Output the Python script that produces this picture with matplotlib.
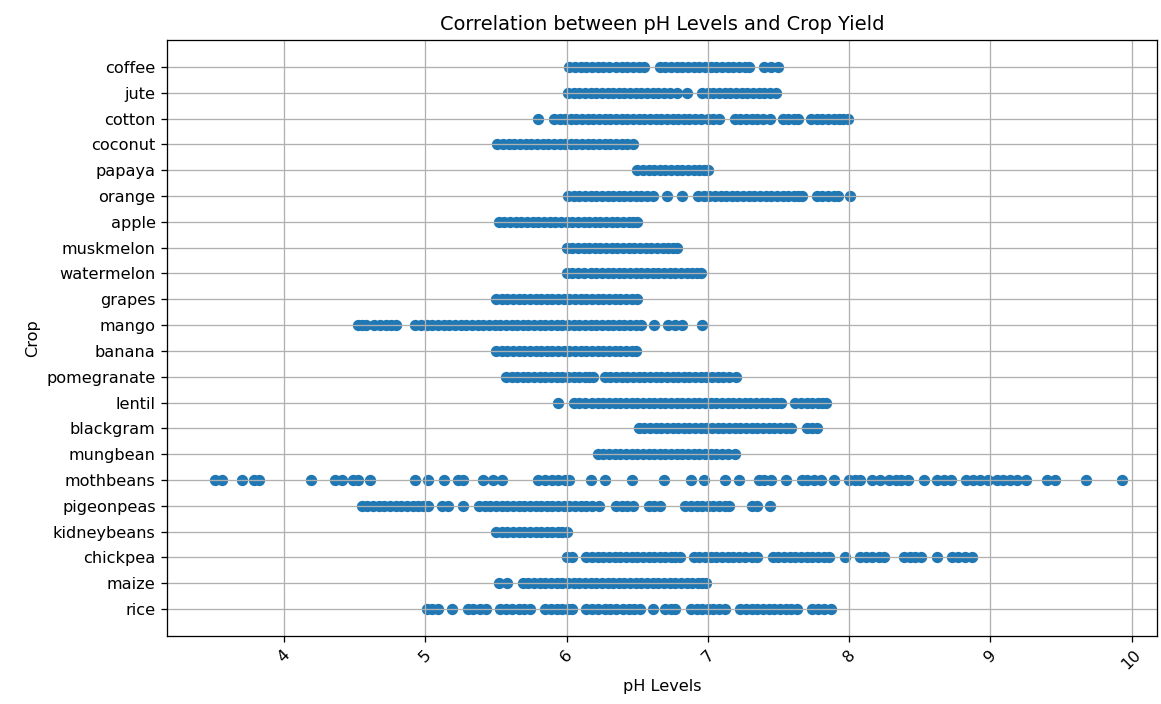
import matplotlib
matplotlib.use("Agg")
import matplotlib.pyplot as plt

# pH readings per crop
rice_ph = [5.01, 5.05, 5.09, 5.19, 5.30, 5.34, 5.39, 5.43, 5.53, 5.57, 5.61, 5.66, 5.70, 5.74,
           5.85, 5.89, 5.93, 5.97, 6.01, 6.04, 6.14, 6.18, 6.22, 6.27, 6.31, 6.35, 6.40, 6.44,
           6.48, 6.52, 6.61, 6.70, 6.74, 6.77, 6.88, 6.92, 6.96, 7.00, 7.04, 7.08, 7.12, 7.23,
           7.27, 7.31, 7.35, 7.39, 7.43, 7.47, 7.51, 7.55, 7.59, 7.63, 7.74, 7.78, 7.82, 7.87]
maize_ph = [5.52, 5.58, 5.69, 5.73, 5.77, 5.81, 5.85, 5.89, 5.93, 5.97, 6.01, 6.05, 6.09, 6.13,
            6.17, 6.21, 6.25, 6.29, 6.33, 6.37, 6.41, 6.45, 6.49, 6.53, 6.57, 6.61, 6.65, 6.69,
            6.73, 6.77, 6.81, 6.85, 6.89, 6.93, 6.96, 6.99]
chickpea_ph = [6.00, 6.04, 6.14, 6.18, 6.22, 6.26, 6.30, 6.34, 6.38, 6.42, 6.46, 6.50, 6.54, 6.58,
               6.62, 6.66, 6.70, 6.74, 6.77, 6.80, 6.90, 6.94, 6.98, 7.02, 7.06, 7.10, 7.14, 7.18,
               7.22, 7.26, 7.31, 7.35, 7.46, 7.50, 7.54, 7.58, 7.62, 7.66, 7.70, 7.74, 7.78, 7.82,
               7.86, 7.97, 8.08, 8.12, 8.16, 8.21, 8.25, 8.39, 8.43, 8.47, 8.51, 8.62, 8.73, 8.77,
               8.82, 8.87]
kidneybeans_ph = [5.50, 5.54, 5.58, 5.62, 5.66, 5.70, 5.74, 5.78, 5.82, 5.86, 5.90, 5.94, 5.97, 6.00]
pigeonpeas_ph = [4.55, 4.59, 4.63, 4.67, 4.71, 4.75, 4.79, 4.83, 4.87, 4.91, 4.95, 4.98, 5.02, 5.12,
                 5.16, 5.27, 5.38, 5.42, 5.46, 5.50, 5.54, 5.58, 5.62, 5.66, 5.70, 5.74, 5.78, 5.82,
                 5.86, 5.90, 5.94, 5.98, 6.02, 6.06, 6.10, 6.14, 6.18, 6.23, 6.35, 6.39, 6.43, 6.47,
                 6.58, 6.62, 6.66, 6.84, 6.88, 6.92, 6.96, 7.00, 7.04, 7.08, 7.12, 7.15, 7.31, 7.35,
                 7.44]
mothbeans_ph = [3.51, 3.56, 3.70, 3.79, 3.82, 4.19, 4.36, 4.41, 4.49, 4.52, 4.61, 4.93, 5.02, 5.13,
                5.23, 5.27, 5.41, 5.48, 5.54, 5.80, 5.85, 5.90, 5.94, 5.99, 6.02, 6.17, 6.27, 6.46,
                6.69, 6.88, 6.97, 7.12, 7.22, 7.36, 7.40, 7.45, 7.55, 7.67, 7.70, 7.75, 7.80, 7.89,
                8.00, 8.04, 8.08, 8.16, 8.22, 8.28, 8.33, 8.37, 8.42, 8.53, 8.62, 8.67, 8.72, 8.83,
                8.88, 8.93, 8.98, 9.05, 9.09, 9.14, 9.19, 9.25, 9.40, 9.46, 9.68, 9.93]
mungbean_ph = [6.22, 6.26, 6.30, 6.34, 6.38, 6.42, 6.46, 6.50, 6.54, 6.58, 6.62, 6.66, 6.70, 6.74,
               6.78, 6.82, 6.86, 6.90, 6.94, 6.98, 7.02, 7.06, 7.10, 7.14, 7.19]
blackgram_ph = [6.51, 6.55, 6.59, 6.63, 6.67, 6.71, 6.75, 6.79, 6.83, 6.87, 6.91, 6.95, 6.99, 7.03,
                7.07, 7.11, 7.15, 7.19, 7.23, 7.27, 7.31, 7.35, 7.39, 7.43, 7.47, 7.51, 7.55, 7.59,
                7.70, 7.74, 7.77]
lentil_ph = [5.94, 6.05, 6.09, 6.13, 6.18, 6.22, 6.26, 6.30, 6.34, 6.38, 6.42, 6.46, 6.50, 6.54,
             6.58, 6.62, 6.66, 6.70, 6.74, 6.78, 6.82, 6.86, 6.90, 6.94, 6.98, 7.02, 7.06, 7.10,
             7.14, 7.18, 7.22, 7.26, 7.30, 7.34, 7.38, 7.42, 7.46, 7.49, 7.52, 7.62, 7.66, 7.70,
             7.74, 7.78, 7.81, 7.84]
pomegranate_ph = [5.57, 5.61, 5.65, 5.69, 5.73, 5.77, 5.81, 5.85, 5.89, 5.93, 5.97, 6.01, 6.05, 6.09,
                  6.13, 6.16, 6.19, 6.27, 6.31, 6.35, 6.39, 6.43, 6.47, 6.51, 6.55, 6.59, 6.63, 6.67,
                  6.71, 6.75, 6.79, 6.83, 6.87, 6.91, 6.95, 6.99, 7.03, 7.07, 7.11, 7.15, 7.20]
banana_ph = [5.50, 5.54, 5.58, 5.62, 5.66, 5.70, 5.74, 5.78, 5.82, 5.86, 5.90, 5.94, 5.98, 6.02,
             6.06, 6.10, 6.14, 6.18, 6.22, 6.26, 6.30, 6.34, 6.38, 6.42, 6.46, 6.49]
mango_ph = [4.52, 4.55, 4.58, 4.64, 4.68, 4.72, 4.76, 4.79, 4.93, 4.97, 5.01, 5.05, 5.09, 5.13,
            5.17, 5.21, 5.25, 5.29, 5.33, 5.37, 5.41, 5.45, 5.49, 5.53, 5.57, 5.61, 5.65, 5.69,
            5.73, 5.77, 5.81, 5.85, 5.89, 5.93, 5.97, 6.01, 6.05, 6.09, 6.13, 6.17, 6.21, 6.25,
            6.29, 6.33, 6.37, 6.41, 6.45, 6.49, 6.53, 6.62, 6.72, 6.77, 6.82, 6.96]
grapes_ph = [5.50, 5.54, 5.58, 5.62, 5.66, 5.70, 5.74, 5.78, 5.82, 5.86, 5.90, 5.94, 5.98, 6.02,
             6.06, 6.10, 6.14, 6.18, 6.22, 6.26, 6.30, 6.34, 6.38, 6.42, 6.46, 6.50]
watermelon_ph = [6.00, 6.04, 6.08, 6.12, 6.17, 6.21, 6.25, 6.29, 6.33, 6.37, 6.41, 6.45, 6.49, 6.53,
                 6.57, 6.61, 6.65, 6.69, 6.73, 6.77, 6.81, 6.85, 6.89, 6.92, 6.95]
muskmelon_ph = [6.00, 6.04, 6.08, 6.12, 6.16, 6.20, 6.24, 6.28, 6.32, 6.36, 6.40, 6.44, 6.48, 6.52,
                6.56, 6.60, 6.64, 6.68, 6.72, 6.75, 6.78]
apple_ph = [5.52, 5.56, 5.60, 5.64, 5.68, 5.72, 5.76, 5.80, 5.84, 5.88, 5.92, 5.96, 6.00, 6.04,
            6.08, 6.12, 6.16, 6.20, 6.24, 6.28, 6.32, 6.36, 6.40, 6.44, 6.47, 6.50]
orange_ph = [6.01, 6.05, 6.09, 6.13, 6.17, 6.21, 6.25, 6.29, 6.33, 6.37, 6.41, 6.45, 6.49, 6.53,
             6.57, 6.61, 6.71, 6.82, 6.93, 6.97, 7.01, 7.05, 7.09, 7.13, 7.17, 7.21, 7.25, 7.29,
             7.33, 7.37, 7.41, 7.45, 7.49, 7.53, 7.57, 7.61, 7.64, 7.67, 7.77, 7.81, 7.85, 7.89,
             7.92, 8.01]
papaya_ph = [6.50, 6.54, 6.58, 6.62, 6.66, 6.70, 6.74, 6.78, 6.82, 6.86, 6.90, 6.94, 6.97, 7.00]
coconut_ph = [5.51, 5.55, 5.59, 5.63, 5.67, 5.71, 5.75, 5.79, 5.83, 5.87, 5.91, 5.95, 5.99, 6.03,
              6.07, 6.11, 6.15, 6.19, 6.23, 6.27, 6.31, 6.35, 6.39, 6.43, 6.47]
cotton_ph = [5.80, 5.91, 5.95, 5.99, 6.03, 6.07, 6.11, 6.15, 6.19, 6.23, 6.27, 6.31, 6.35, 6.39,
             6.43, 6.47, 6.51, 6.55, 6.59, 6.63, 6.67, 6.71, 6.75, 6.79, 6.83, 6.87, 6.91, 6.95,
             7.00, 7.04, 7.08, 7.19, 7.23, 7.27, 7.31, 7.35, 7.39, 7.44, 7.53, 7.57, 7.61, 7.64,
             7.73, 7.77, 7.81, 7.85, 7.89, 7.93, 7.96, 7.99]
jute_ph = [6.01, 6.05, 6.09, 6.13, 6.17, 6.21, 6.25, 6.29, 6.33, 6.37, 6.41, 6.45, 6.49, 6.53,
           6.57, 6.61, 6.65, 6.69, 6.73, 6.78, 6.85, 6.96, 7.00, 7.04, 7.08, 7.12, 7.16, 7.20,
           7.24, 7.28, 7.32, 7.36, 7.40, 7.44, 7.48]
coffee_ph = [6.02, 6.06, 6.10, 6.14, 6.18, 6.22, 6.26, 6.30, 6.35, 6.39, 6.43, 6.47, 6.51, 6.55,
             6.66, 6.70, 6.74, 6.78, 6.82, 6.86, 6.90, 6.94, 6.98, 7.02, 7.06, 7.10, 7.14, 7.18,
             7.22, 7.26, 7.29, 7.40, 7.45, 7.50]

crops = ["rice", "maize", "chickpea", "kidneybeans", "pigeonpeas", "mothbeans", "mungbean",
         "blackgram", "lentil", "pomegranate", "banana", "mango", "grapes", "watermelon",
         "muskmelon", "apple", "orange", "papaya", "coconut", "cotton", "jute", "coffee"]
ph_by_crop = [rice_ph, maize_ph, chickpea_ph, kidneybeans_ph, pigeonpeas_ph, mothbeans_ph,
              mungbean_ph, blackgram_ph, lentil_ph, pomegranate_ph, banana_ph, mango_ph,
              grapes_ph, watermelon_ph, muskmelon_ph, apple_ph, orange_ph, papaya_ph,
              coconut_ph, cotton_ph, jute_ph, coffee_ph]

ph_levels = []
crop_labels = []
for crop, values in zip(crops, ph_by_crop):
    ph_levels.extend(values)
    crop_labels.extend([crop] * len(values))

fig = plt.figure(figsize=(10, 704 / 116.1), dpi=116.1)
ax = fig.add_axes([167 / 1161, 1 - 636 / 704, 990 / 1161, 596 / 704])

ax.scatter(ph_levels, crop_labels)
ax.set_xlim(3.171, 10.18)

ax.set_title('Correlation between pH Levels and Crop Yield')
ax.set_xlabel('pH Levels')
ax.set_ylabel('Crop')
ax.tick_params(axis='x', labelrotation=45)
ax.grid(True)

fig.savefig('out.png', dpi=116.1)
